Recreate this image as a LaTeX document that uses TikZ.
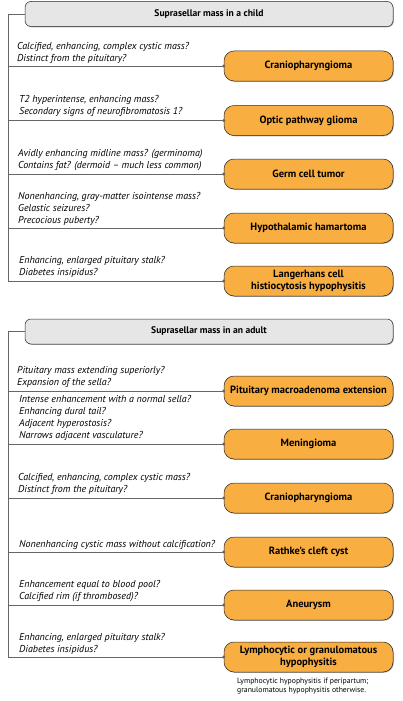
\documentclass[tikz,border=0pt]{standalone}
\usepackage{fontspec}
\setmainfont{PT Sans}
\usetikzlibrary{shadows}
\definecolor{dxorange}{HTML}{F9AE42}
\definecolor{headgray}{HTML}{E6E6E6}
\definecolor{branchgray}{HTML}{666666}
\tikzset{
  headbox/.style={draw=black!85, fill=headgray, rounded corners=6pt, line width=0.5pt,
    minimum width=368pt, minimum height=25pt, inner sep=0pt,
    font=\fontsize{9.6}{10}\selectfont\bfseries,
    drop shadow={shadow xshift=0.8pt, shadow yshift=-0.8pt, opacity=0.6}},
  dxbox/.style={draw=black!85, fill=dxorange, rounded corners=10pt, line width=0.5pt,
    minimum width=169pt, minimum height=30pt, inner sep=1pt, align=center,
    font=\fontsize{10.5}{12}\selectfont\bfseries,
    drop shadow={shadow xshift=0.8pt, shadow yshift=-0.8pt, opacity=0.6}},
  cue/.style={anchor=north west, align=left, inner sep=0pt,
    font=\fontsize{10}{12}\selectfont\itshape},
  branch/.style={draw=branchgray, line width=0.9pt},
}
\begin{document}
\begin{tikzpicture}[x=1pt,y=-1pt]
  \useasboundingbox (0,0) rectangle (402,701);
  % child
  \node[headbox] (childhead) at (209,14) {Suprasellar mass in a child};
  \node[dxbox] (cranioA) at (308.5,66) {Craniopharyngioma};
  \node[dxbox] (optic) at (308.5,120.5) {Optic pathway glioma};
  \node[dxbox] (germ) at (308.5,174) {Germ cell tumor};
  \node[dxbox] (hamartoma) at (308.5,228) {Hypothalamic hamartoma};
  \node[dxbox] (langerhans) at (308.5,281) {Langerhans cell\\histiocytosis hypophysitis};
  \node[cue] (qcranioA) at (17,42) {Calcified, enhancing, complex cystic mass?\\Distinct from the pituitary?};
  \node[cue] (qoptic) at (19,95) {T2 hyperintense, enhancing mass?\\Secondary signs of neurofibromatosis 1?};
  \node[cue] (qgerm) at (18,149) {Avidly enhancing midline mass? (germinoma)\\Contains fat? (dermoid -- much less common)};
  \node[cue] (qhamartoma) at (18,192) {Nonenhancing, gray-matter isointense mass?\\Gelastic seizures?\\Precocious puberty?};
  \node[cue] (qlangerhans) at (19,256) {Enhancing, enlarged pituitary stalk?\\Diabetes insipidus?};
  \coordinate (trunkA) at (8,14);
  \draw[branch] (childhead.west) -- (trunkA) -- (trunkA |- langerhans.west);
  \foreach \dx in {cranioA,optic,germ,hamartoma,langerhans} {
    \draw[branch] (trunkA |- \dx.west) -- (\dx.west);
    \fill[branchgray] (\dx.west) circle (1.7);
  }
  % adult
  \node[headbox] (adulthead) at (209,331.5) {Suprasellar mass in an adult};
  \node[dxbox] (macro) at (308.5,391) {Pituitary macroadenoma extension};
  \node[dxbox] (mening) at (308.5,444) {Meningioma};
  \node[dxbox] (cranioB) at (308.5,498) {Craniopharyngioma};
  \node[dxbox] (rathke) at (308.5,552) {Rathke’s cleft cyst};
  \node[dxbox] (aneurysm) at (308.5,605) {Aneurysm};
  \node[dxbox] (hypophys) at (308.5,657) {Lymphocytic or granulomatous\\hypophysitis};
  \node[cue] (qmacro) at (17,366) {Pituitary mass extending superiorly?\\Expansion of the sella?};
  \node[cue] (qmening) at (19,395) {Intense enhancement with a normal sella?\\Enhancing dural tail?\\Adjacent hyperostosis?\\Narrows adjacent vasculature?};
  \node[cue] (qcranioB) at (18,473) {Calcified, enhancing, complex cystic mass?\\Distinct from the pituitary?};
  \node[cue] (qrathke) at (19,540) {Nonenhancing cystic mass without calcification?};
  \node[cue] (qaneurysm) at (19,580) {Enhancement equal to blood pool?\\Calcified rim (if thrombosed)?};
  \node[cue] (qhypophys) at (19,633) {Enhancing, enlarged pituitary stalk?\\Diabetes insipidus?};
  \node[anchor=north west, align=left, inner sep=0pt, font=\fontsize{7.7}{9}\selectfont]
    (hypophysnote) at (237,678) {Lymphocytic hypophysitis if peripartum;\\granulomatous hypophysitis otherwise.};
  \coordinate (trunkB) at (8,331.5);
  \draw[branch] (adulthead.west) -- (trunkB) -- (trunkB |- hypophys.west);
  \foreach \dx in {macro,mening,cranioB,rathke,aneurysm,hypophys} {
    \draw[branch] (trunkB |- \dx.west) -- (\dx.west);
    \fill[branchgray] (\dx.west) circle (1.7);
  }
\end{tikzpicture}
\end{document}
